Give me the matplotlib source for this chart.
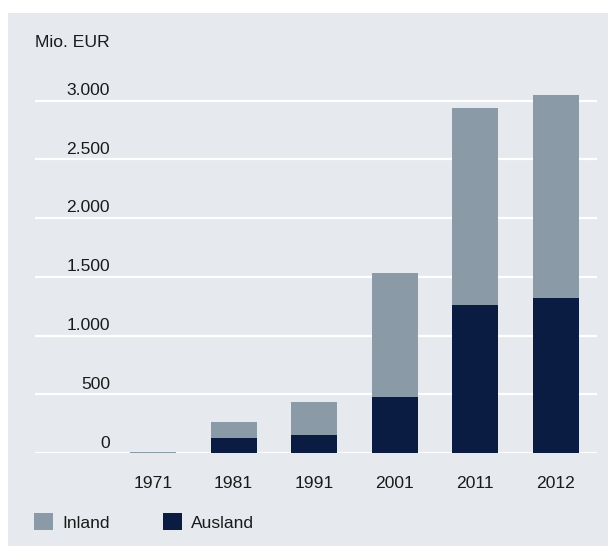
import matplotlib
matplotlib.use("Agg")
import matplotlib.pyplot as plt
import matplotlib.transforms as mtransforms
from matplotlib.patches import Rectangle
import numpy as np

plt.rcParams['font.family'] = ['Liberation Sans', 'DejaVu Sans']

years = ["1971", "1981", "1991", "2001", "2011", "2012"]
ausland = [0, 128, 153, 476, 1258, 1318]
inland = [10, 135, 280, 1054, 1676, 1726]
yticks = [0, 500, 1000, 1500, 2000, 2500, 3000]
ytick_labels = ["0", "500", "1.000", "1.500", "2.000", "2.500", "3.000"]
unit_label = "Mio. EUR"
series_names = ["Inland", "Ausland"]

c_bg = "#e6e9ee"
c_inland = "#8a9aa6"
c_ausland = "#0a1c42"

W, H = 608, 547
fig = plt.figure(figsize=(W / 100, H / 100), dpi=100)
fig.patch.set_facecolor("white")
fig.patches.append(Rectangle((8 / W, 1 / H), 1 - 8 / W, (H - 14) / H,
                             transform=fig.transFigure, facecolor=c_bg,
                             edgecolor="none", zorder=-10))

ax_l, ax_r = 35, 597
y0_px, y3000_px = 453, 100.5
ppu = (y0_px - y3000_px) / 3000
ymax = 3100
ax_top_px = y0_px - ymax * ppu
ax = fig.add_axes([ax_l / W, (H - y0_px) / H, (ax_r - ax_l) / W, (y0_px - ax_top_px) / H])
ax.set_facecolor("none")
for s in ax.spines.values():
    s.set_visible(False)

x = np.arange(len(years))
step = 80.6
xmin = -(153 - ax_l) / step
xmax = 5 + (ax_r - 556) / step
ax.set_xlim(xmin, xmax)
ax.set_ylim(0, ymax)

for v in yticks:
    ax.axhline(v, color="white", lw=1.6, zorder=0)

bw = 46 / step
b1 = ax.bar(x, ausland, width=bw, color=c_ausland, zorder=2, label=series_names[1])
b2 = ax.bar(x, inland, width=bw, bottom=ausland, color=c_inland, zorder=2, label=series_names[0])

ax.set_xticks([])
ax.set_yticks([])

fs = 12.6
tc = "#1a1a1a"
lab_x = (110 - ax_l) / (ax_r - ax_l)
trans = mtransforms.blended_transform_factory(ax.transAxes, ax.transData)
off = mtransforms.offset_copy(trans, fig=fig, x=0, y=5.5, units="dots")
for v, t in zip(yticks, ytick_labels):
    ax.text(lab_x, v, t, transform=off, ha="right", va="baseline", fontsize=fs, color=tc)

xtrans = mtransforms.offset_copy(ax.get_xaxis_transform(), fig=fig, x=0, y=-35.5, units="dots")
for xi, t in zip(x, years):
    ax.text(xi, 0, t, transform=xtrans, ha="center", va="baseline", fontsize=fs, color=tc)

fig.text(ax_l / W, 1 - 46.7 / H, unit_label, ha="left", va="baseline", fontsize=fs, color=tc)

leg = fig.legend(handles=[b2, b1], labels=series_names, loc="center left",
                 bbox_to_anchor=(34 / W, 1 - 522 / H), ncol=2, frameon=False,
                 fontsize=fs, handlelength=1.08, handleheight=1.08, handletextpad=0.56,
                 columnspacing=3.0, borderpad=0, borderaxespad=0)
for t in leg.get_texts():
    t.set_color(tc)

fig.savefig("out.png", dpi=100, facecolor="white")
